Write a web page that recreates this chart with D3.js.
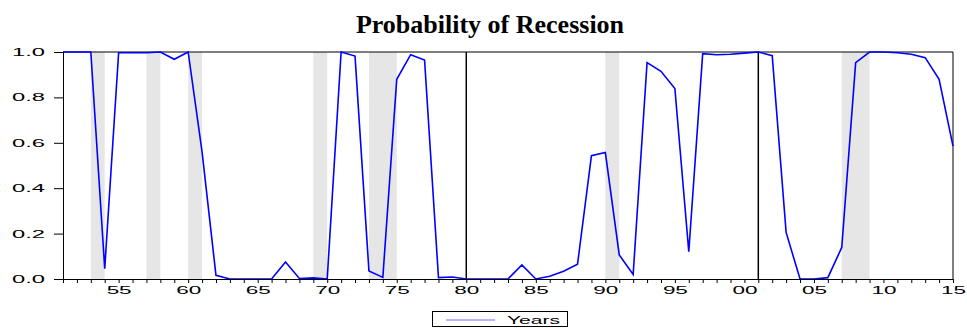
<!DOCTYPE html>
<html>
<head>
<meta charset="utf-8">
<script src="https://cdn.jsdelivr.net/npm/d3@7"></script>
<style>
  body { margin: 0; background: #fff; }
  svg { display: block; }
  .axis path, .axis line { stroke: #000; }
  .axis text { font-family: "Liberation Sans", Arial, sans-serif; font-size: 10px; fill: #000; }
</style>
</head>
<body>
<div id="chart"></div>
<script>
// annual observations
const years = d3.range(1951, 2016);
const probability = [
  1.0, 1.0, 1.0, 0.045, 0.997, 0.997, 0.997, 1.0, 0.968, 1.0,
  0.56, 0.016, 0.0, 0.0, 0.0, 0.0, 0.075, 0.002, 0.005, 0.0,
  1.0, 0.982, 0.035, 0.007, 0.88, 0.988, 0.965, 0.006, 0.009, 0.0,
  0.0, 0.0, 0.0, 0.062, 0.0, 0.012, 0.034, 0.065, 0.543, 0.557,
  0.106, 0.02, 0.953, 0.915, 0.839, 0.12, 0.993, 0.988, 0.99, 0.995,
  1.0, 0.984, 0.205, 0.0, 0.0, 0.006, 0.139, 0.953, 1.0, 1.0,
  0.997, 0.99, 0.975, 0.88, 0.585
];
// recession periods (shaded)
const recessions = [
  [1953, 1954], [1957, 1958], [1960, 1961], [1969, 1970],
  [1973, 1975], [1990, 1991], [2007, 2009]
];
// single-year periods drawn as lines
const markers = [1980, 2001];
const yTicks = [0, 0.2, 0.4, 0.6, 0.8, 1.0];
const seriesName = "Years";
const title = "Probability of Recession";

const W = 967, H = 328;
const margin = { top: 52, right: 14, bottom: 49, left: 63 };

const svg = d3.select('#chart').append('svg')
  .attr('width', W).attr('height', H);

const x = d3.scaleLinear().domain([1951, 2015]).range([margin.left, W - margin.right]);
const y = d3.scaleLinear().domain([0, 1]).range([H - margin.bottom, margin.top]);

// shading
svg.append('g').selectAll('rect')
  .data(recessions)
  .join('rect')
  .attr('x', d => x(d[0]))
  .attr('y', y(1))
  .attr('width', d => x(d[1]) - x(d[0]))
  .attr('height', y(0) - y(1))
  .attr('fill', '#e6e6e6');

svg.append('g').selectAll('line')
  .data(markers)
  .join('line')
  .attr('x1', d => x(d)).attr('x2', d => x(d))
  .attr('y1', y(1)).attr('y2', y(0))
  .attr('stroke', '#000')
  .attr('stroke-width', 1.5);

// frame (top and right)
svg.append('path')
  .attr('d', `M${x(1951)},${y(1)}H${x(2015)}V${y(0)}`)
  .attr('fill', 'none')
  .attr('stroke', '#000');

// series line
const line = d3.line()
  .x((d, i) => x(years[i]))
  .y(d => y(d));

svg.append('path')
  .datum(probability)
  .attr('d', line)
  .attr('fill', 'none')
  .attr('stroke', '#0000ff')
  .attr('stroke-width', 1.6)
  .attr('stroke-linejoin', 'miter');

// y axis
const yAxis = d3.axisLeft(y).tickValues(yTicks).tickFormat(d3.format('.1f')).tickSize(9).tickSizeOuter(0);
const gy = svg.append('g').attr('class', 'axis')
  .attr('transform', `translate(${margin.left},0)`)
  .call(yAxis);
gy.selectAll('text')
  .attr('text-anchor', 'start')
  .attr('x', 12 - margin.left)
  .attr('dy', '0.35em')
  .attr('textLength', 33)
  .attr('lengthAdjust', 'spacingAndGlyphs');

// x axis
const xAxis = d3.axisBottom(x).tickValues(years)
  .tickFormat(d => d % 5 === 0 ? d3.format('02d')(d % 100) : '')
  .tickSize(4).tickSizeOuter(0);
const gx = svg.append('g').attr('class', 'axis')
  .attr('transform', `translate(0,${y(0)})`)
  .call(xAxis);
gx.selectAll('text')
  .filter(d => d % 5 === 0)
  .attr('text-anchor', 'start')
  .attr('x', -12.5)
  .attr('y', 15)
  .attr('dy', 0)
  .attr('textLength', 25)
  .attr('lengthAdjust', 'spacingAndGlyphs');

// title
svg.append('text')
  .attr('x', 490).attr('y', 33)
  .attr('text-anchor', 'middle')
  .attr('font-family', '"Liberation Serif", "Times New Roman", serif')
  .attr('font-weight', 'bold')
  .attr('font-size', 26)
  .text(title);

// legend
const lg = svg.append('g');
lg.append('rect')
  .attr('x', 432.5).attr('y', 311.5)
  .attr('width', 135).attr('height', 15)
  .attr('fill', '#fff').attr('stroke', '#000');
lg.append('line')
  .attr('x1', 446).attr('x2', 495)
  .attr('y1', 320).attr('y2', 320)
  .attr('stroke', '#6f6fff').attr('stroke-width', 1.2);
lg.append('text')
  .attr('x', 507).attr('y', 324)
  .attr('font-family', '"Liberation Sans", Arial, sans-serif')
  .attr('font-size', 10.5)
  .attr('textLength', 53)
  .attr('lengthAdjust', 'spacingAndGlyphs')
  .text(seriesName);
</script>
</body>
</html>
